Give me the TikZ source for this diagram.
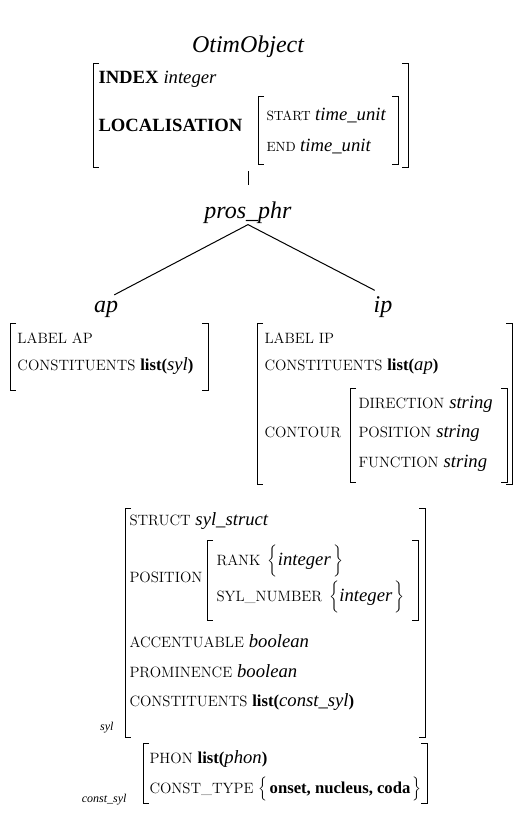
\documentclass[tikz,border=0pt]{standalone}
\usepackage{fontspec}
\newfontfamily\tms{Liberation Serif}
\newcommand{\val}[1]{{\tms\itshape\fontsize{14}{16}\selectfont #1}}
\newcommand{\bval}[1]{{\tms\bfseries\fontsize{14}{16}\selectfont #1}}
\newcommand{\lst}[1]{{\tms\bfseries\fontsize{12.5}{14}\selectfont list(}\val{#1}{\tms\bfseries\fontsize{12.5}{14}\selectfont )}}

\tikzset{every picture/.style={line width=0.75pt}}
\tikzset{
attr/.style={anchor=base west, inner sep=0pt, font=\fontsize{11.2}{13}\selectfont},
attrsm/.style={anchor=base west, inner sep=0pt, font=\fontsize{10}{12}\selectfont},
big/.style={anchor=base, inner sep=0.75pt, font=\tms\itshape\fontsize{18}{21}\selectfont},
tag/.style={anchor=base east, inner sep=0pt, font=\tms\itshape\fontsize{9}{11}\selectfont}
}

\begin{document}
\begin{tikzpicture}[x=0.75pt,y=0.75pt,yscale=-1,xscale=1]
\useasboundingbox (0,0) rectangle (531,826);

%Shape: Bracket OtimObject
\draw (99,63) -- (93,63) -- (93,167) -- (99,167) ;
\draw (402,63) -- (408,63) -- (408,167) -- (402,167) ;
%Shape: Bracket localisation
\draw (264,96) -- (258,96) -- (258,164) -- (264,164) ;
\draw (392,96) -- (398,96) -- (398,164) -- (392,164) ;
%Shape: Bracket ap
\draw (16,323) -- (10,323) -- (10,390) -- (16,390) ;
\draw (202,323) -- (208,323) -- (208,390) -- (202,390) ;
%Shape: Bracket ip
\draw (263,323) -- (257,323) -- (257,484) -- (263,484) ;
\draw (506,323) -- (512,323) -- (512,484) -- (506,484) ;
%Shape: Bracket contour
\draw (356,388) -- (350,388) -- (350,482) -- (356,482) ;
\draw (501,388) -- (507,388) -- (507,482) -- (501,482) ;
%Shape: Bracket syl
\draw (131,508) -- (125,508) -- (125,737) -- (131,737) ;
\draw (419,508) -- (425,508) -- (425,737) -- (419,737) ;
%Shape: Bracket position
\draw (213,540) -- (207,540) -- (207,620) -- (213,620) ;
\draw (412,540) -- (418,540) -- (418,620) -- (412,620) ;
%Shape: Bracket const_syl
\draw (149,743) -- (143,743) -- (143,803) -- (149,803) ;
\draw (421,743) -- (427,743) -- (427,803) -- (421,803) ;

% Text Node
\draw (248,52) node [big] (otim) {OtimObject};
% Text Node
\draw (98,83) node [attr] (index) {\bval{INDEX} \val{integer}};
% Text Node
\draw (98,131) node [attr] (loc) {\bval{LOCALISATION}};
% Text Node
\draw (266,120) node [attrsm] (start) {START \val{time\_unit}};
% Text Node
\draw (266,151) node [attrsm] (end) {END \val{time\_unit}};
% Text Node
\draw (248,218) node [big] (pros) {pros\_phr};
% Text Node
\draw (106,312) node [big] (ap) {ap};
% Text Node
\draw (383,312) node [big] (ip) {ip};

% Text Node
\draw (17,343) node [attr] (aplabel) {LABEL AP};
% Text Node
\draw (17,370) node [attr] (apconst) {CONSTITUENTS \lst{syl}};

% Text Node
\draw (264,343) node [attr] (iplabel) {LABEL IP};
% Text Node
\draw (264,370) node [attr] (ipconst) {CONSTITUENTS \lst{ap}};
% Text Node
\draw (264,437) node [attr] (contour) {CONTOUR};
% Text Node
\draw (358,408) node [attr] (dir) {DIRECTION \val{string}};
% Text Node
\draw (358,437) node [attr] (pos) {POSITION \val{string}};
% Text Node
\draw (358,467) node [attr] (fun) {FUNCTION \val{string}};

% Text Node
\draw (129,525) node [attr] (struct) {STRUCT \val{syl\_struct}};
% Text Node
\draw (129,582) node [attr] (sylpos) {POSITION};
% Text Node
\draw (216,565) node [attr] (rank) {RANK \,$\bigg\{$\val{integer}\,$\bigg\}$};
% Text Node
\draw (216,601) node [attr] (sylnum) {SYL\_NUMBER \,$\bigg\{$\val{integer}\,$\bigg\}$};
% Text Node
\draw (129,647) node [attr] (accent) {ACCENTUABLE \val{boolean}};
% Text Node
\draw (129,677) node [attr] (prom) {PROMINENCE \val{boolean}};
% Text Node
\draw (129,706) node [attr] (sylconst) {CONSTITUENTS \lst{const\_syl}};
% Text Node
\draw (114,730) node [tag] (syl) {syl};

% Text Node
\draw (149,763) node [attr] (phon) {PHON \lst{phon}};
% Text Node
\draw (149,793) node [attr] (ctype) {CONST\_TYPE $\Big\{$\,{\tms\bfseries\fontsize{12.5}{14}\selectfont onset, nucleus, coda}\,$\Big\}$};
% Text Node
\draw (127,802) node [tag] (constsyl) {const\_syl};

\coordinate (otimbot) at (248,171);
%Straight Lines
\draw [shorten >=11pt] (otimbot) -- (pros.north) ;
%Straight Lines
\draw [shorten >=7pt] (pros.south) -- (ap.north) ;
%Straight Lines
\draw [shorten >=7pt] (pros.south) -- (ip.north) ;

\end{tikzpicture}
\end{document}
